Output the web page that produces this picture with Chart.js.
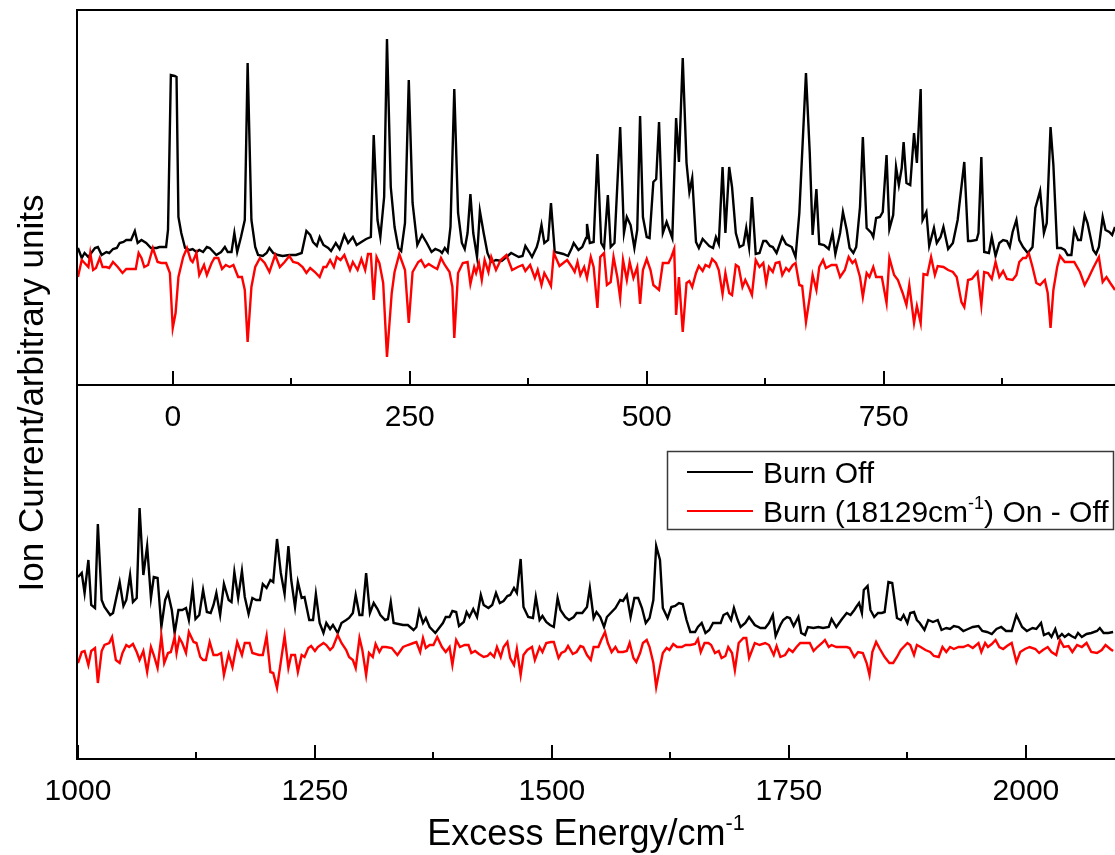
<!DOCTYPE html>
<html>
<head>
<meta charset="utf-8">
<script src="https://cdn.jsdelivr.net/npm/chart.js@4.4.1/dist/chart.umd.min.js"></script>
<style>
  html, body { margin: 0; padding: 0; background: #fff; overflow: hidden; }
  #wrap { position: relative; width: 1115px; height: 855px; }
  canvas { position: absolute; left: 0; top: 0; }
</style>
</head>
<body>
<div id="wrap">
  <canvas id="bottomChart" width="1115" height="855"></canvas>
  <canvas id="topChart" width="1115" height="440"></canvas>
</div>
<script>
const FONT = "'Liberation Sans', Arial, sans-serif";

// excess energy (cm-1), ion signal (arb.) -- upper panel, -100..1000
const topBurnOff = [[-100,136],[-96,126],[-93,131],[-89,127],[-86,131],[-82,136],[-79,137],[-75,129],[-70,132],[-67,131],[-63,135],[-59,136],[-56,141],[-52,142],[-49,144],[-44,144],[-40,153],[-37,141],[-33,144],[-28,141],[-23,136],[-17,136],[-14,137],[-7,137],[-5,154],[-2,309],[2,308],[4,307],[6,167],[9,151],[13,136],[18,134],[21,135],[25,132],[28,134],[32,132],[36,137],[39,136],[43,132],[46,129],[51,132],[55,137],[58,132],[62,132],[65,151],[68,132],[72,147],[76,164],[79,321],[83,164],[87,137],[90,129],[95,128],[99,131],[102,136],[106,131],[111,129],[116,128],[123,129],[130,129],[136,131],[141,153],[145,149],[148,142],[152,138],[155,147],[159,139],[164,136],[167,133],[172,141],[176,135],[181,149],[185,141],[190,147],[194,139],[199,142],[204,145],[209,147],[212,249],[216,164],[219,147],[223,187],[226,345],[230,197],[234,157],[238,136],[241,133],[245,161],[249,304],[253,181],[258,139],[263,149],[268,141],[273,132],[277,135],[282,133],[284,131],[287,136],[290,132],[293,157],[297,295],[301,171],[305,141],[308,135],[311,151],[314,190],[317,151],[321,127],[324,173],[328,151],[332,131],[336,122],[341,124],[347,123],[352,127],[357,131],[361,129],[365,127],[369,128],[372,138],[376,132],[379,127],[384,137],[386,144],[389,159],[392,141],[396,144],[399,181],[403,132],[408,131],[412,130],[417,128],[421,136],[423,141],[428,134],[432,137],[436,146],[437,160],[440,141],[444,142],[448,230],[452,141],[455,136],[459,189],[462,137],[466,141],[472,257],[476,151],[479,167],[483,159],[487,136],[490,154],[493,268],[496,167],[500,147],[503,146],[507,202],[510,205],[513,262],[517,151],[521,162],[524,154],[527,146],[531,266],[534,222],[538,326],[542,221],[545,192],[548,206],[552,142],[555,136],[559,145],[563,141],[566,138],[570,136],[573,147],[576,140],[580,217],[583,151],[587,217],[590,197],[594,151],[598,137],[602,139],[605,156],[608,137],[611,187],[615,130],[619,131],[623,143],[626,143],[630,138],[633,137],[637,131],[643,147],[647,140],[653,137],[657,127],[661,171],[668,311],[672,231],[675,149],[679,195],[682,140],[687,139],[692,135],[696,151],[699,130],[704,151],[707,172],[711,154],[714,136],[718,131],[721,137],[725,177],[728,247],[732,156],[737,151],[739,147],[742,166],[746,167],[749,172],[753,229],[756,155],[760,169],[763,217],[766,199],[769,216],[771,242],[774,201],[778,199],[782,251],[785,221],[789,295],[791,164],[795,172],[798,138],[803,156],[806,141],[810,147],[813,157],[818,135],[823,141],[828,164],[835,222],[839,143],[842,143],[848,144],[850,151],[853,227],[856,132],[861,131],[864,147],[868,128],[872,141],[876,144],[880,143],[883,137],[886,152],[890,164],[893,144],[897,137],[902,131],[907,137],[910,176],[915,193],[919,151],[922,161],[926,257],[929,219],[933,136],[937,136],[941,134],[944,129],[948,129],[951,154],[955,144],[958,144],[962,169],[965,161],[971,134],[974,130],[977,137],[981,167],[984,154],[988,152],[991,149],[994,157]];

const topBurnDiff = [[-100,107],[-96,124],[-93,121],[-89,117],[-87,131],[-84,114],[-81,116],[-77,126],[-74,117],[-70,117],[-67,116],[-63,122],[-58,117],[-53,111],[-49,115],[-44,115],[-39,115],[-36,131],[-33,126],[-30,117],[-26,119],[-21,136],[-16,122],[-12,121],[-7,121],[-3,111],[0,56],[3,71],[6,107],[11,127],[15,136],[19,124],[21,122],[25,131],[28,109],[33,119],[36,109],[41,121],[44,126],[48,126],[52,115],[56,119],[60,117],[64,119],[69,107],[73,107],[76,94],[79,42],[83,97],[87,117],[92,126],[97,121],[102,112],[108,129],[113,117],[118,122],[123,128],[127,122],[132,121],[137,117],[141,111],[145,116],[150,112],[155,107],[159,117],[162,117],[166,124],[170,117],[173,127],[177,124],[181,129],[187,114],[190,122],[195,114],[199,125],[203,114],[206,130],[209,130],[212,84],[215,127],[218,121],[222,101],[226,27],[231,91],[234,112],[239,130],[245,114],[249,61],[253,112],[259,122],[262,124],[266,117],[270,120],[275,117],[279,115],[283,126],[287,119],[292,112],[295,97],[297,46],[301,111],[306,121],[311,122],[314,100],[318,117],[320,111],[323,121],[326,104],[329,124],[333,112],[336,127],[341,114],[346,124],[352,129],[358,114],[364,117],[369,119],[372,113],[377,119],[382,106],[385,114],[389,99],[392,111],[396,104],[399,98],[402,131],[408,118],[412,121],[416,124],[421,117],[424,112],[427,122],[430,109],[434,117],[437,106],[441,127],[444,117],[448,76],[451,127],[455,131],[458,99],[462,102],[465,127],[469,107],[472,86],[475,124],[479,104],[482,122],[486,106],[490,117],[493,80],[496,114],[500,125],[504,114],[507,99],[513,94],[517,121],[523,121],[526,127],[529,135],[531,69],[534,107],[538,52],[542,101],[545,103],[548,97],[552,111],[555,118],[559,113],[562,119],[566,117],[569,125],[573,121],[576,114],[580,90],[583,111],[587,91],[590,89],[594,119],[597,117],[601,97],[604,104],[608,96],[611,89],[615,124],[619,117],[623,121],[626,101],[629,117],[633,112],[636,121],[640,122],[643,109],[647,116],[650,113],[654,119],[657,121],[661,99],[664,98],[668,62],[672,87],[675,109],[679,94],[682,117],[686,124],[689,116],[695,119],[700,119],[704,107],[709,114],[713,127],[717,121],[720,124],[725,107],[728,87],[732,111],[735,107],[739,117],[742,107],[748,107],[753,81],[756,126],[761,109],[765,104],[770,91],[774,79],[777,99],[782,61],[785,78],[789,61],[792,110],[796,109],[800,127],[804,109],[807,118],[813,117],[818,114],[823,112],[827,107],[832,82],[835,77],[839,104],[843,105],[849,112],[853,79],[856,112],[860,111],[864,105],[868,122],[872,107],[876,113],[880,105],[886,104],[890,109],[893,122],[897,126],[900,126],[903,131],[907,117],[911,101],[915,99],[920,104],[923,91],[926,56],[929,94],[933,117],[936,128],[941,122],[946,122],[951,122],[957,112],[962,99],[966,106],[971,116],[977,127],[981,102],[985,107],[989,101],[994,94]];

// lower panel, 1000..2100
const botBurnOff = [[1000,185],[1004,189],[1007,169],[1011,202],[1014,157],[1018,154],[1021,238],[1025,162],[1028,155],[1034,147],[1037,149],[1044,180],[1048,156],[1051,162],[1055,187],[1058,160],[1062,164],[1065,254],[1069,187],[1073,216],[1077,164],[1080,185],[1084,184],[1088,135],[1092,162],[1095,169],[1099,152],[1102,129],[1106,152],[1110,152],[1114,154],[1117,142],[1121,174],[1124,143],[1128,147],[1132,172],[1136,150],[1140,149],[1143,157],[1146,169],[1150,147],[1154,178],[1159,162],[1162,160],[1165,190],[1169,164],[1173,191],[1176,165],[1180,148],[1184,164],[1188,162],[1192,162],[1195,178],[1199,174],[1203,182],[1206,180],[1210,223],[1214,189],[1218,168],[1222,216],[1225,182],[1229,155],[1232,180],[1236,164],[1239,165],[1244,142],[1248,142],[1251,168],[1255,139],[1259,129],[1262,139],[1266,133],[1269,137],[1274,129],[1278,139],[1283,142],[1286,144],[1290,149],[1293,167],[1297,147],[1300,147],[1304,189],[1308,149],[1312,159],[1316,153],[1319,147],[1324,142],[1327,143],[1330,160],[1333,139],[1338,138],[1343,137],[1348,137],[1354,132],[1357,135],[1360,151],[1364,139],[1367,144],[1371,135],[1377,129],[1381,134],[1385,139],[1388,145],[1392,145],[1395,151],[1399,150],[1402,136],[1407,140],[1410,150],[1413,145],[1417,153],[1421,145],[1425,167],[1428,157],[1433,154],[1437,157],[1441,169],[1445,159],[1449,161],[1453,166],[1456,167],[1460,174],[1463,169],[1467,203],[1470,155],[1475,145],[1480,144],[1483,165],[1487,142],[1490,146],[1494,140],[1498,137],[1502,135],[1506,164],[1509,152],[1514,145],[1518,142],[1523,145],[1526,149],[1532,149],[1537,155],[1540,174],[1544,144],[1547,150],[1551,145],[1555,135],[1558,145],[1562,149],[1567,154],[1572,162],[1575,161],[1579,167],[1583,145],[1587,164],[1591,164],[1595,154],[1599,139],[1603,144],[1607,162],[1610,216],[1614,202],[1617,154],[1622,144],[1626,155],[1630,156],[1634,159],[1638,158],[1642,142],[1646,130],[1651,130],[1654,135],[1658,139],[1662,129],[1666,132],[1670,139],[1674,139],[1678,139],[1681,147],[1685,149],[1689,142],[1692,154],[1696,142],[1699,135],[1704,139],[1708,145],[1714,137],[1720,134],[1725,134],[1729,139],[1733,147],[1736,126],[1741,137],[1744,142],[1748,145],[1751,144],[1755,136],[1760,145],[1763,129],[1767,127],[1770,135],[1776,134],[1781,135],[1786,134],[1792,135],[1795,143],[1800,135],[1806,143],[1811,149],[1815,147],[1819,152],[1821,155],[1824,159],[1827,149],[1829,172],[1833,176],[1836,152],[1840,145],[1844,149],[1848,149],[1851,150],[1855,180],[1859,179],[1864,144],[1868,142],[1871,147],[1875,139],[1878,149],[1882,150],[1885,142],[1888,139],[1893,132],[1897,142],[1902,140],[1907,142],[1911,132],[1916,134],[1920,133],[1924,136],[1929,135],[1934,131],[1939,133],[1944,135],[1950,136],[1954,131],[1959,130],[1964,128],[1969,133],[1974,135],[1979,131],[1985,131],[1990,147],[1996,135],[2001,131],[2007,134],[2011,133],[2016,139],[2019,127],[2024,129],[2027,125],[2031,133],[2034,124],[2038,128],[2041,125],[2045,128],[2048,126],[2052,124],[2055,129],[2059,125],[2064,128],[2069,129],[2075,131],[2078,134],[2082,129],[2087,129],[2092,130]];

const botBurnDiff = [[1000,99],[1004,110],[1007,111],[1011,97],[1014,111],[1018,114],[1021,79],[1025,111],[1028,117],[1033,119],[1036,125],[1040,102],[1044,99],[1047,109],[1051,117],[1054,115],[1058,118],[1062,110],[1065,102],[1069,111],[1073,90],[1077,115],[1080,107],[1084,94],[1088,126],[1091,99],[1095,109],[1098,110],[1102,125],[1104,109],[1107,124],[1110,119],[1114,109],[1117,130],[1122,120],[1125,119],[1129,105],[1132,102],[1135,102],[1139,120],[1143,107],[1147,107],[1151,109],[1154,87],[1159,108],[1163,95],[1168,120],[1173,107],[1176,119],[1181,119],[1184,109],[1191,107],[1195,107],[1199,126],[1203,90],[1206,89],[1210,74],[1214,100],[1218,126],[1222,94],[1225,107],[1229,107],[1232,90],[1236,107],[1239,105],[1243,114],[1246,116],[1250,111],[1253,115],[1259,119],[1262,117],[1266,112],[1269,115],[1274,127],[1278,119],[1283,112],[1286,105],[1290,102],[1293,94],[1297,124],[1300,112],[1304,87],[1307,109],[1311,105],[1314,118],[1318,110],[1321,115],[1325,115],[1331,114],[1337,107],[1343,115],[1348,117],[1354,119],[1357,120],[1361,110],[1364,124],[1367,114],[1371,117],[1375,117],[1379,125],[1384,115],[1388,110],[1392,115],[1395,97],[1399,122],[1403,115],[1408,117],[1412,117],[1415,109],[1419,111],[1423,108],[1428,105],[1432,106],[1435,109],[1439,105],[1442,115],[1446,105],[1449,115],[1453,120],[1456,104],[1460,97],[1463,113],[1467,87],[1470,107],[1474,112],[1479,115],[1482,102],[1487,115],[1490,110],[1494,119],[1499,120],[1502,120],[1507,104],[1510,109],[1514,111],[1517,116],[1522,108],[1526,110],[1530,116],[1533,115],[1537,107],[1541,102],[1544,115],[1549,115],[1552,122],[1556,130],[1559,119],[1563,110],[1567,115],[1570,110],[1575,110],[1579,111],[1582,119],[1586,104],[1589,100],[1593,109],[1596,119],[1600,122],[1603,115],[1607,99],[1610,75],[1614,95],[1617,109],[1621,114],[1624,112],[1628,118],[1632,115],[1637,115],[1641,117],[1646,117],[1651,118],[1654,123],[1657,110],[1661,119],[1665,119],[1668,117],[1672,109],[1676,111],[1679,104],[1683,106],[1686,115],[1690,109],[1693,92],[1697,119],[1702,124],[1705,124],[1708,104],[1714,119],[1719,117],[1725,119],[1729,117],[1734,107],[1737,116],[1741,105],[1746,107],[1750,113],[1754,110],[1758,115],[1762,119],[1767,119],[1772,119],[1776,111],[1780,115],[1785,119],[1788,122],[1792,115],[1795,117],[1800,115],[1806,115],[1811,115],[1814,114],[1819,105],[1823,110],[1828,109],[1832,99],[1835,87],[1838,110],[1842,120],[1846,113],[1851,105],[1856,99],[1860,99],[1864,105],[1868,112],[1871,115],[1875,119],[1878,117],[1882,107],[1885,117],[1889,115],[1894,112],[1899,110],[1903,106],[1908,105],[1912,115],[1916,110],[1920,115],[1924,113],[1929,115],[1934,115],[1939,117],[1944,114],[1950,119],[1953,110],[1957,119],[1960,115],[1964,118],[1968,122],[1972,115],[1976,113],[1980,116],[1985,119],[1990,100],[1994,110],[1999,113],[2004,115],[2010,113],[2014,109],[2018,112],[2023,115],[2027,110],[2032,107],[2036,122],[2040,115],[2045,116],[2049,110],[2054,117],[2059,115],[2064,119],[2069,110],[2075,109],[2080,112],[2084,117],[2089,113],[2092,111]];

const topMajorTicks = [0, 250, 500, 750];
const topMinorTicks = [125, 375, 625, 875];
const botMajorTicks = [1000, 1250, 1500, 1750, 2000];
const botMinorTicks = [1125, 1375, 1625, 1875];

// legend labels, split so the superscript can be raised
const seriesNames = [
  [{ t: 'Burn Off' }],
  [{ t: 'Burn (18129cm' }, { t: '-1', sup: true }, { t: ') On - Off' }]
];
const seriesColors = ['#000000', '#ff0000'];
const xTitle = [{ t: 'Excess Energy/cm' }, { t: '-1', sup: true }];
const yTitle = 'Ion Current/arbitrary units';

// draw text pieces with superscripts
function richWidth(ctx, parts, size) {
  let w = 0;
  parts.forEach(p => {
    ctx.font = (p.sup ? size * 0.6 : size) + 'px ' + FONT;
    w += ctx.measureText(p.t).width;
  });
  return w;
}
function drawRich(ctx, parts, x, y, size, align) {
  let cx = align === 'center' ? x - richWidth(ctx, parts, size) / 2 : x;
  ctx.textAlign = 'left';
  ctx.textBaseline = 'alphabetic';
  parts.forEach(p => {
    const s = p.sup ? size * 0.6 : size;
    ctx.font = s + 'px ' + FONT;
    ctx.fillText(p.t, cx, p.sup ? y - size * 0.42 : y);
    cx += ctx.measureText(p.t).width;
  });
}

// left / top / bottom frame with inward tick marks
const panelFrame = {
  id: 'panelFrame',
  afterDraw(chart, args, opts) {
    const { ctx, chartArea: a } = chart;
    const xs = chart.scales.x;
    ctx.save();
    ctx.strokeStyle = '#000';
    ctx.lineWidth = 2;
    ctx.beginPath();
    ctx.moveTo(a.right + 2, a.top); ctx.lineTo(a.left, a.top);
    ctx.lineTo(a.left, a.bottom); ctx.lineTo(a.right + 2, a.bottom);
    ctx.stroke();
    ctx.beginPath();
    opts.majors.forEach(v => {
      const px = Math.round(xs.getPixelForValue(v));
      ctx.moveTo(px, a.bottom); ctx.lineTo(px, a.bottom - 14);
    });
    opts.minors.forEach(v => {
      const px = Math.round(xs.getPixelForValue(v));
      ctx.moveTo(px, a.bottom); ctx.lineTo(px, a.bottom - 7);
    });
    ctx.stroke();
    ctx.restore();
  }
};

// legend box and the shared axis titles, drawn on the lower panel
const extras = {
  id: 'extras',
  afterDraw(chart) {
    const ctx = chart.ctx;
    ctx.save();
    ctx.strokeStyle = '#3a3a3a';
    ctx.lineWidth = 1.5;
    ctx.strokeRect(667.5, 451.5, 446, 78);
    const rows = [472, 511];
    seriesNames.forEach((parts, i) => {
      ctx.strokeStyle = seriesColors[i];
      ctx.lineWidth = 2;
      ctx.beginPath();
      ctx.moveTo(687, rows[i]); ctx.lineTo(753, rows[i]);
      ctx.stroke();
      ctx.fillStyle = '#000';
      drawRich(ctx, parts, 763, rows[i] + 11, 30, 'left');
    });
    ctx.fillStyle = '#000';
    drawRich(ctx, xTitle, 586, 845, 36, 'center');
    ctx.translate(43, 393);
    ctx.rotate(-Math.PI / 2);
    ctx.font = '35px ' + FONT;
    ctx.textAlign = 'center';
    ctx.textBaseline = 'alphabetic';
    ctx.fillText(yTitle, 0, 0);
    ctx.restore();
  }
};

function makePanel(id, offData, diffData, xMin, xMax, yMin, yMax, padTop, axisH, majors, minors, plugins) {
  return new Chart(document.getElementById(id), {
    type: 'line',
    data: {
      datasets: [
        {
          label: 'Burn (18129cm-1) On - Off',
          data: diffData.map(p => ({ x: p[0], y: p[1] })),
          borderColor: seriesColors[1],
          borderWidth: 2.4,
          pointRadius: 0,
          tension: 0,
          order: 0
        },
        {
          label: 'Burn Off',
          data: offData.map(p => ({ x: p[0], y: p[1] })),
          borderColor: seriesColors[0],
          borderWidth: 2.4,
          pointRadius: 0,
          tension: 0,
          order: 1
        }
      ]
    },
    options: {
      responsive: false,
      animation: false,
      devicePixelRatio: 1,
      layout: { padding: { left: 77, top: padTop, right: 0, bottom: 0 } },
      plugins: {
        legend: { display: false },
        tooltip: { enabled: false },
        panelFrame: { majors: majors, minors: minors }
      },
      scales: {
        x: {
          type: 'linear',
          min: xMin,
          max: xMax,
          afterBuildTicks: s => { s.ticks = majors.map(v => ({ value: v })); },
          afterFit: s => { s.height = axisH; },
          grid: { display: false, drawTicks: false },
          border: { display: false },
          ticks: {
            padding: 15,
            color: '#000',
            autoSkip: false,
            maxRotation: 0,
            font: { size: 30, family: FONT },
            callback: v => String(v)
          }
        },
        y: { display: false, min: yMin, max: yMax }
      }
    },
    plugins: plugins
  });
}

makePanel('bottomChart', botBurnOff, botBurnDiff, 999, 2094, 3, 377, 385, 96,
  botMajorTicks, botMinorTicks, [panelFrame, extras]);
makePanel('topChart', topBurnOff, topBurnDiff, -101, 994, -1, 374, 10, 55,
  topMajorTicks, topMinorTicks, [panelFrame]);
</script>
</body>
</html>
